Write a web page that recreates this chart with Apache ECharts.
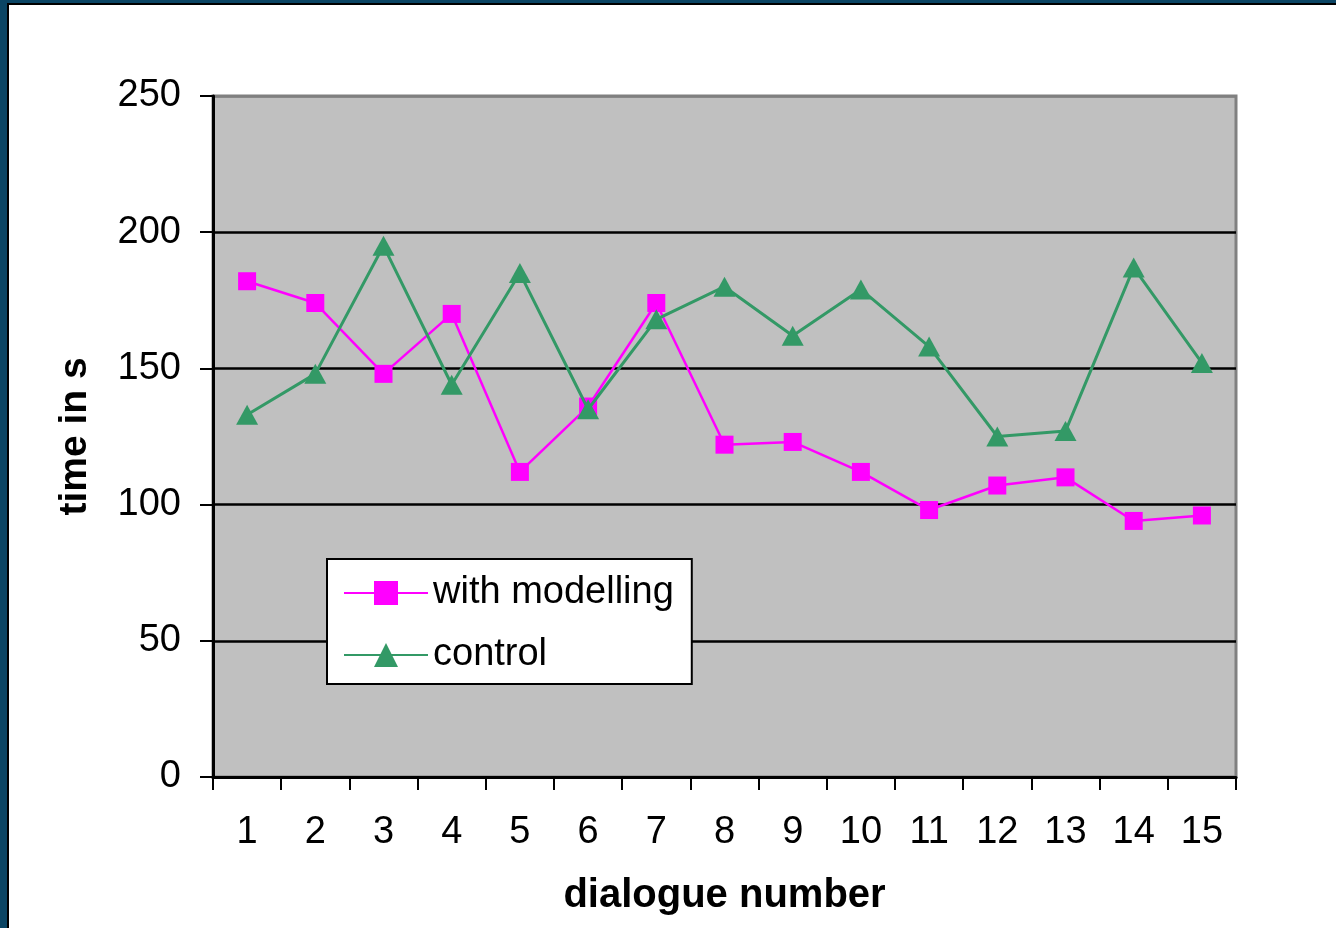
<!DOCTYPE html>
<html>
<head>
<meta charset="utf-8">
<script src="https://cdn.jsdelivr.net/npm/echarts@6/dist/echarts.min.js"></script>
<style>
  html, body { margin: 0; padding: 0; background: #fff; }
  #wrap { position: relative; width: 1336px; height: 928px; overflow: hidden; }
  #chart { position: absolute; left: 0; top: 0; width: 1336px; height: 928px; }
  .fr { position: absolute; pointer-events: none; }
</style>
</head>
<body>
<div id="wrap">
  <div id="chart"></div>
  <div class="fr" style="left:0;top:0;width:7px;height:928px;background:#0b4564;"></div>
  <div class="fr" style="left:0;top:0;width:1336px;height:3px;background:#0b4564;"></div>
  <div class="fr" style="left:7px;top:3px;width:2px;height:925px;background:#000;"></div>
  <div class="fr" style="left:7px;top:3px;width:1329px;height:2px;background:#000;"></div>
</div>
<script>
const categories = ['1','2','3','4','5','6','7','8','9','10','11','12','13','14','15'];
const withModelling = [182, 174, 148, 170, 112, 136, 174, 122, 123, 112, 98, 107, 110, 94, 96];
const control = [133, 148, 195, 144, 185, 135, 168, 180, 162, 179, 158, 125, 127, 187, 152];
const seriesNames = ['with modelling', 'control'];

const font = "'Liberation Sans', Arial, sans-serif";
const chart = echarts.init(document.getElementById('chart'), null, { renderer: 'canvas' });

chart.setOption({
  animation: false,
  backgroundColor: 'transparent',
  grid: {
    left: 213, right: 100, top: 96, bottom: 151,
    show: true, backgroundColor: '#c0c0c0', borderColor: '#808080', borderWidth: 3,
    containLabel: false
  },
  legend: {
    orient: 'vertical',
    left: 327, top: 559,
    padding: [15, 18, 10, 16],
    itemGap: 24,
    itemWidth: 84, itemHeight: 30,
    backgroundColor: '#ffffff',
    borderColor: '#000000', borderWidth: 2,
    textStyle: { fontFamily: font, fontSize: 38, color: '#000' },
    data: seriesNames
  },
  xAxis: {
    type: 'category',
    data: categories,
    boundaryGap: true,
    name: 'dialogue number',
    nameLocation: 'middle',
    nameGap: 99,
    nameTextStyle: { fontFamily: font, fontSize: 40, fontWeight: 'bold', color: '#000' },
    axisLine: { show: true, lineStyle: { color: '#000', width: 3 } },
    axisTick: { show: true, inside: false, length: 13, alignWithLabel: false, interval: 0, lineStyle: { color: '#000', width: 2 } },
    axisLabel: { interval: 0, margin: 37, fontFamily: font, fontSize: 38, color: '#000' },
    splitLine: { show: false }
  },
  yAxis: {
    type: 'value',
    min: 0, max: 250, interval: 50,
    name: 'time in s',
    nameLocation: 'middle',
    nameGap: 118,
    nameTextStyle: { fontFamily: font, fontSize: 39, fontWeight: 'bold', color: '#000' },
    axisLine: { show: true, lineStyle: { color: '#000', width: 3 } },
    axisTick: { show: true, inside: false, length: 13, lineStyle: { color: '#000', width: 2 } },
    axisLabel: { margin: 32, fontFamily: font, fontSize: 38, color: '#000' },
    splitLine: { show: true, lineStyle: { color: ['#000', '#000', '#000', '#000', '#000', '#808080'], width: 2.5 } }
  },
  series: [
    {
      name: seriesNames[0],
      type: 'line',
      data: withModelling,
      symbol: 'rect',
      symbolSize: 18,
      itemStyle: { color: '#ff00ff' },
      lineStyle: { color: '#ff00ff', width: 2.5 },
      z: 3
    },
    {
      name: seriesNames[1],
      type: 'line',
      data: control,
      symbol: 'triangle',
      symbolSize: [22, 20],
      itemStyle: { color: '#339966' },
      lineStyle: { color: '#339966', width: 3 },
      z: 4
    }
  ]
});
</script>
</body>
</html>
